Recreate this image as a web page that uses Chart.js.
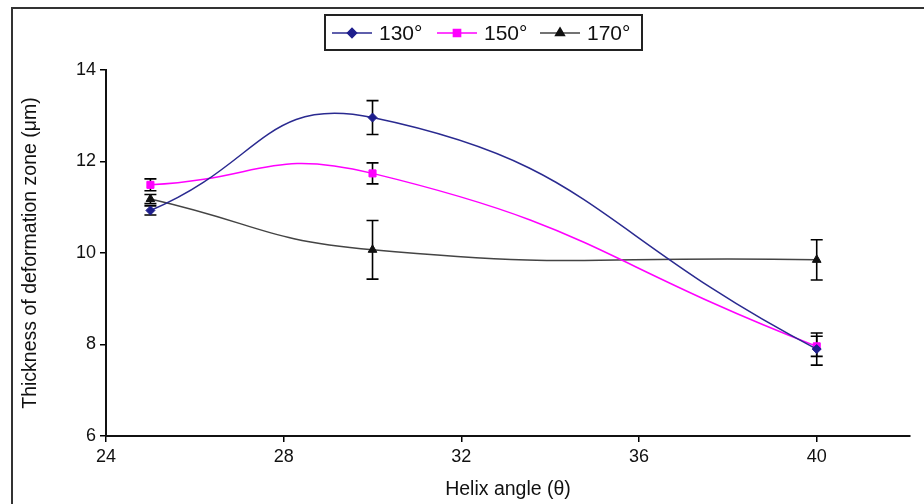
<!DOCTYPE html>
<html>
<head>
<meta charset="utf-8">
<script src="https://cdn.jsdelivr.net/npm/chart.js@4.4.1/dist/chart.umd.min.js"></script>
<style>
    html, body { margin: 0; padding: 0; background: #fff; }
    #wrap { position: relative; width: 924px; height: 504px; }
</style>
</head>
<body>
<div id="wrap"><canvas id="chart" width="924" height="504"></canvas></div>
<script>
// Helix angle (x) and thickness of deformation zone (y)
var helixAngles = [25, 30, 40];
var thick130 = [10.93, 12.96, 7.9];
var err130 = [0.1, 0.37, 0.35];
var thick150 = [11.49, 11.74, 7.96];
var err150 = [0.13, 0.23, 0.22];
var thick170 = [11.18, 10.07, 9.85];
var err170 = [0.1, 0.64, 0.44];
var seriesLabels = ['130°', '150°', '170°'];
var xTicks = [24, 28, 32, 36, 40];
var yTicks = [6, 8, 10, 12, 14];

var FONT = '"Liberation Sans", Arial, sans-serif';

function toPoints(ys) {
    return helixAngles.map(function (x, i) { return { x: x, y: ys[i] }; });
}

var seriesStyles = [
    { color: '#1e1e8c', line: '#2a2a90', marker: 'rectRot', radius: 4.5, err: err130 },
    { color: '#ff00ff', line: '#ff00ff', marker: 'rect', radius: 5, err: err150 },
    { color: '#111111', line: '#444444', marker: 'triangle', radius: 5, err: err170 }
];

// outer frame of the figure
var framePlugin = {
    id: 'frame',
    beforeDraw: function (chart) {
        var ctx = chart.ctx;
        ctx.save();
        ctx.strokeStyle = '#333';
        ctx.lineWidth = 2;
        ctx.beginPath();
        ctx.moveTo(12, 504);
        ctx.lineTo(12, 8);
        ctx.lineTo(924, 8);
        ctx.stroke();
        ctx.restore();
    }
};

// vertical error bars with caps, placed through the scales
var errorBarPlugin = {
    id: 'errorBars',
    beforeDatasetsDraw: function (chart) {
        var ctx = chart.ctx;
        var xs = chart.scales.x, ys = chart.scales.y;
        ctx.save();
        ctx.strokeStyle = '#000';
        ctx.lineWidth = 1.6;
        chart.data.datasets.forEach(function (ds, di) {
            var errs = seriesStyles[di].err;
            ds.data.forEach(function (p, i) {
                var px = xs.getPixelForValue(p.x);
                var top = ys.getPixelForValue(p.y + errs[i]);
                var bot = ys.getPixelForValue(p.y - errs[i]);
                ctx.beginPath();
                ctx.moveTo(px, top); ctx.lineTo(px, bot);
                ctx.moveTo(px - 6, top); ctx.lineTo(px + 6, top);
                ctx.moveTo(px - 6, bot); ctx.lineTo(px + 6, bot);
                ctx.stroke();
            });
        });
        ctx.restore();
    }
};

// boxed legend with line + marker samples
var legendPlugin = {
    id: 'boxLegend',
    afterDraw: function (chart) {
        var ctx = chart.ctx;
        ctx.save();
        ctx.fillStyle = '#fff';
        ctx.fillRect(325, 15, 317, 35);
        ctx.strokeStyle = '#222';
        ctx.lineWidth = 2;
        ctx.strokeRect(325, 15, 317, 35);
        var starts = [332, 437, 540];
        var cy = 33;
        ctx.font = '21px ' + FONT;
        ctx.textBaseline = 'middle';
        seriesStyles.forEach(function (s, i) {
            var x0 = starts[i];
            ctx.strokeStyle = s.line;
            ctx.lineWidth = 1.6;
            ctx.beginPath();
            ctx.moveTo(x0, cy); ctx.lineTo(x0 + 40, cy);
            ctx.stroke();
            ctx.fillStyle = s.color;
            ctx.strokeStyle = s.color;
            Chart.helpers.drawPoint(ctx, {
                pointStyle: s.marker, radius: s.radius, rotation: 0, borderWidth: 1
            }, x0 + 20, cy);
            ctx.fillStyle = '#111';
            ctx.fillText(seriesLabels[i], x0 + 47, cy + 1);
        });
        ctx.restore();
    }
};

var datasets = [thick130, thick150, thick170].map(function (ys, i) {
    var s = seriesStyles[i];
    return {
        label: seriesLabels[i],
        data: toPoints(ys),
        borderColor: s.line,
        backgroundColor: s.color,
        borderWidth: 1.5,
        pointStyle: s.marker,
        pointRadius: s.radius,
        pointBorderWidth: 1,
        pointBackgroundColor: s.color,
        pointBorderColor: s.color,
        tension: 0.5,
        fill: false
    };
});

new Chart(document.getElementById('chart').getContext('2d'), {
    type: 'line',
    data: { datasets: datasets },
    options: {
        responsive: false,
        animation: false,
        layout: { padding: { left: 14, right: 14, top: 70, bottom: 0 } },
        plugins: {
            legend: { display: false },
            tooltip: { enabled: false }
        },
        scales: {
            x: {
                type: 'linear',
                min: 24,
                max: 42.1,
                afterBuildTicks: function (scale) {
                    scale.ticks = xTicks.map(function (v) { return { value: v }; });
                },
                afterFit: function (scale) { scale.height = 68; },
                grid: { display: true, drawOnChartArea: false, drawTicks: true, tickLength: 6, color: '#000', lineWidth: 1.5 },
                border: { display: true, color: '#111', width: 2 },
                ticks: { color: '#111', font: { family: FONT, size: 18 }, padding: 4, maxRotation: 0 },
                title: { display: true, text: 'Helix angle (θ)', color: '#111', font: { family: FONT, size: 19.5 }, padding: { top: 4, bottom: 3 } }
            },
            y: {
                type: 'linear',
                min: 6,
                max: 14,
                afterBuildTicks: function (scale) {
                    scale.ticks = yTicks.map(function (v) { return { value: v }; });
                },
                afterFit: function (scale) { scale.width = 92; },
                grid: { display: true, drawOnChartArea: false, drawTicks: true, tickLength: 6, color: '#000', lineWidth: 1.5 },
                border: { display: true, color: '#111', width: 2 },
                ticks: { color: '#111', font: { family: FONT, size: 18 }, padding: 4 },
                title: { display: true, text: 'Thickness of deformation zone (μm)', color: '#111', font: { family: FONT, size: 19.5 }, padding: { top: 5, bottom: 4 } }
            }
        }
    },
    plugins: [framePlugin, errorBarPlugin, legendPlugin]
});
</script>
</body>
</html>
